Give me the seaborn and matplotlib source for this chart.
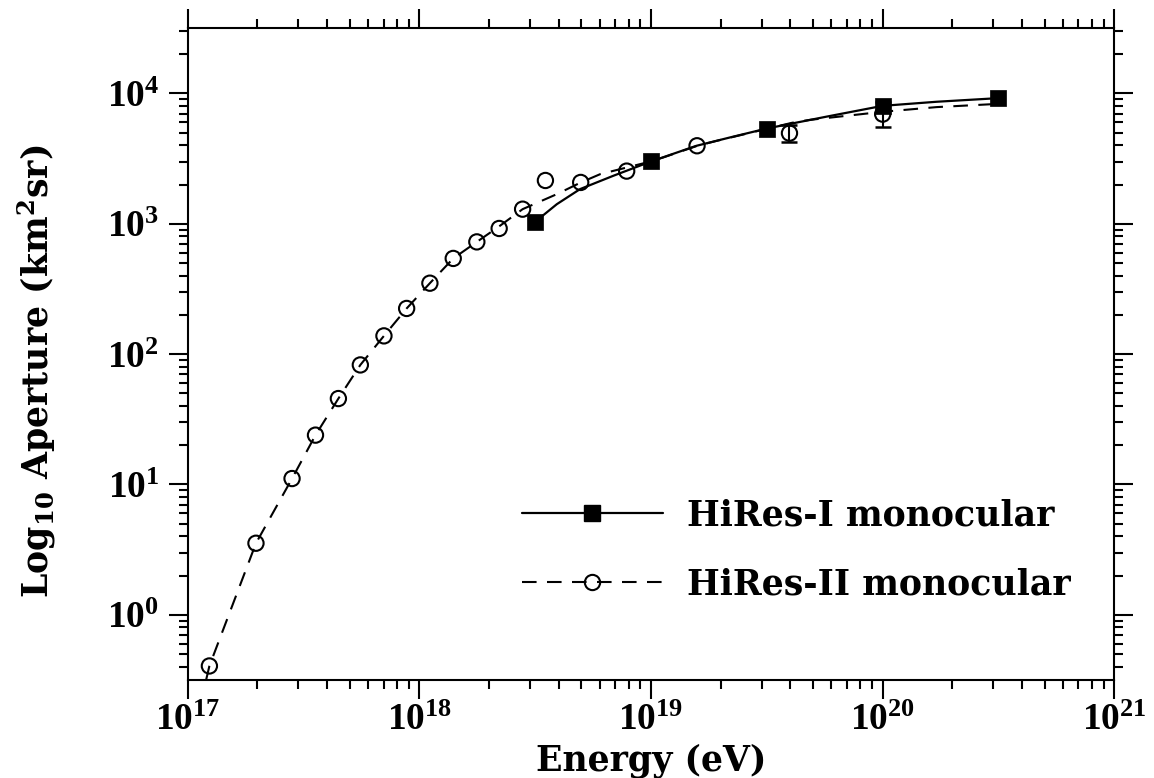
import numpy as np
import matplotlib
matplotlib.use('Agg')
import matplotlib.pyplot as plt
from matplotlib.lines import Line2D
from matplotlib.ticker import LogLocator
import seaborn as sns

# HiRes-I monocular: data points (filled squares) and fitted curve
hr1_energy = [3.16e18, 1.0e19, 3.16e19, 1.0e20, 3.16e20]
hr1_aperture = [1035, 3006, 5380, 8030, 9200]
hr1_fit_energy = [3.16e18, 3.92e18, 4.94e18, 6.87e18, 1.0e19, 1.57e19, 2.19e19,
                  3.16e19, 5.73e19, 1.0e20, 1.71e20, 3.16e20]
hr1_fit_aperture = [1035, 1413, 1845, 2333, 3006, 3963, 4592,
                    5380, 6637, 8030, 8630, 9200]

# HiRes-II monocular: data points (open circles) and fitted curve
hr2_energy = [1.24e17, 1.97e17, 2.82e17, 3.56e17, 4.47e17, 5.56e17, 7.03e17,
              8.81e17, 1.11e18, 1.40e18, 1.77e18, 2.21e18, 2.79e18, 3.50e18,
              4.97e18, 7.85e18, 1.58e19, 3.96e19, 1.0e20]
hr2_aperture = [0.405, 3.54, 11.1, 23.9, 45.6, 82.6, 138,
                224, 350, 542, 726, 920, 1294, 2148,
                2075, 2535, 3966, 4955, 6935]
hr2_err_energy = [3.96e19, 1.0e20]
hr2_err_value = [4955, 6935]
hr2_err_low = [4253, 5550]
hr2_err_high = [5773, 8667]
hr2_fit_energy = [1.20e17, 1.24e17, 1.97e17, 2.82e17, 3.56e17, 4.47e17, 5.56e17,
                  7.03e17, 8.81e17, 1.11e18, 1.40e18, 1.77e18, 2.21e18, 2.79e18,
                  3.92e18, 4.98e18, 6.04e18, 7.85e18, 9.57e18, 1.13e19, 1.585e19,
                  1.92e19, 4.07e19, 4.85e19, 1.0e20, 1.71e20, 3.01e20]
hr2_fit_aperture = [0.316, 0.405, 3.54, 11.1, 23.9, 45.6, 82.6,
                    138, 224, 350, 542, 726, 955, 1294,
                    1687, 2075, 2404, 2700, 2951, 3228, 3966,
                    4325, 5957, 6266, 7228, 7852, 8279]

labels = ['HiRes-I monocular', 'HiRes-II monocular']

sns.set_style('ticks')
plt.rcParams['font.family'] = ['DejaVu Serif']
plt.rcParams['font.weight'] = 'bold'
plt.rcParams['axes.labelweight'] = 'bold'
plt.rcParams['mathtext.fontset'] = 'dejavuserif'
for key in ['text.color', 'axes.labelcolor', 'xtick.color', 'ytick.color',
            'xtick.labelcolor', 'ytick.labelcolor', 'axes.edgecolor']:
    plt.rcParams[key] = 'black'

fig = plt.figure(figsize=(11.54, 7.78), dpi=100)
ax = fig.add_axes([0.1627, 0.126, 0.8029, 0.8377])
ax.set_xscale('log')
ax.set_yscale('log')

dash = (0, (7, 5))

# fitted curves
sns.lineplot(x=hr2_fit_energy, y=hr2_fit_aperture, ax=ax, color='black',
             lw=1.5, linestyle=dash, sort=False, zorder=2)
sns.lineplot(x=hr1_fit_energy, y=hr1_fit_aperture, ax=ax, color='black',
             lw=1.6, sort=False, zorder=2)

# error bars on the high energy HiRes-II points
yerr = [np.array(hr2_err_value) - np.array(hr2_err_low),
        np.array(hr2_err_high) - np.array(hr2_err_value)]
ax.errorbar(hr2_err_energy, hr2_err_value, yerr=yerr, fmt='none',
            ecolor='black', elinewidth=1.5, capsize=6, capthick=1.8, zorder=2)

# markers
sns.scatterplot(x=hr2_energy, y=hr2_aperture, ax=ax, marker='o', s=121,
                facecolors='none', edgecolor='black', linewidth=1.5, zorder=3)
sns.scatterplot(x=hr1_energy, y=hr1_aperture, ax=ax, marker='s', s=144,
                color='black', edgecolor='black', linewidth=0.5, zorder=4)

ax.set_xlim(1e17, 1e21)
ax.set_ylim(10 ** -0.5, 10 ** 4.5)
ax.xaxis.set_major_locator(LogLocator(base=10, numticks=10))
ax.yaxis.set_major_locator(LogLocator(base=10, numticks=10))
ax.xaxis.set_minor_locator(LogLocator(base=10, subs=np.arange(2, 10), numticks=40))
ax.yaxis.set_minor_locator(LogLocator(base=10, subs=np.arange(2, 10), numticks=40))

for s in ax.spines.values():
    s.set_linewidth(1.5)
    s.set_color('black')
ax.tick_params(which='both', direction='out', top=True, right=True,
               width=1.5, color='black')
ax.tick_params(which='major', length=13.5, labelsize=27,
               labelfontfamily='Liberation Serif')
ax.tick_params(which='minor', length=6.5)
ax.tick_params(axis='x', which='major', pad=3)
ax.tick_params(axis='y', which='major', pad=7)

ax.set_xlabel('Energy (eV)', fontsize=25, fontweight='bold')
ax.set_ylabel(r'Log$_{\mathbf{10}}$ Aperture (km$^{\mathbf{2}}$sr)', fontsize=25,
              fontweight='bold')
ax.xaxis.set_label_coords(0.5, -0.097)
ax.yaxis.set_label_coords(-0.140, 0.474)

handles = [
    Line2D([], [], color='black', lw=1.6, marker='s', markersize=12,
           markerfacecolor='black'),
    Line2D([], [], color='black', lw=1.5, linestyle=dash, marker='o',
           markersize=11, markerfacecolor='none', markeredgewidth=1.5),
]
ax.legend(handles, labels, loc='upper left', bbox_to_anchor=(0.3605, 0.279),
          frameon=False, fontsize=25, handlelength=4.06, handletextpad=0.69,
          labelspacing=1.02, borderpad=0, borderaxespad=0, numpoints=1)

fig.savefig('out.png', dpi=100)
